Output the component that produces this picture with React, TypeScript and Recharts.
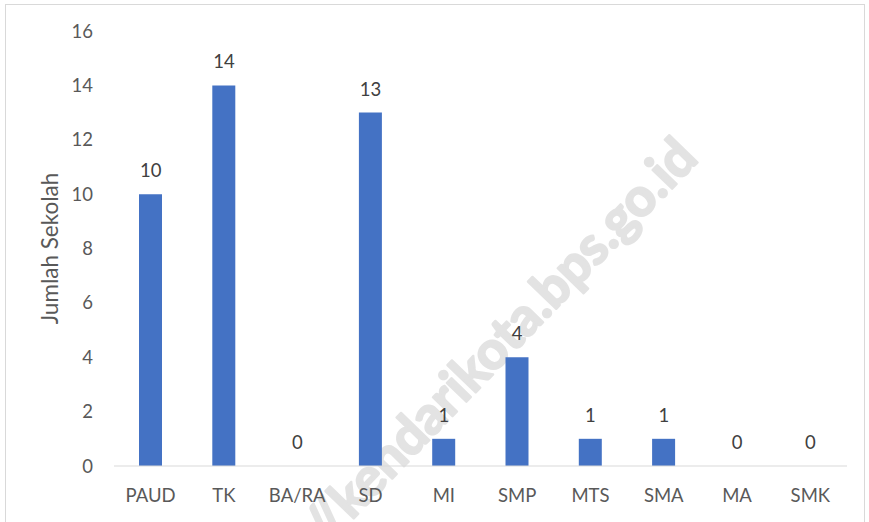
import React from "react";
import { ComposedChart, Bar, Line, XAxis, YAxis, LabelList } from "recharts";

const jenjang = ["PAUD", "TK", "BA/RA", "SD", "MI", "SMP", "MTS", "SMA", "MA", "SMK"];
const jumlahSekolah = [10, 14, 0, 13, 1, 4, 1, 1, 0, 0];
const yTicks = [0, 2, 4, 6, 8, 10, 12, 14, 16];

const data = jenjang.map((name, i) => ({ name, value: jumlahSekolah[i] }));

const font = "Lato, 'Open Sans', sans-serif";

const App: React.FC = () => {
  return (
    <div style={{ position: "absolute", left: 0, top: 0, width: 869, height: 522, background: "#fff", overflow: "hidden" }}>
      <div
        style={{
          position: "absolute",
          left: 5,
          top: 4,
          width: 860,
          height: 530,
          border: "1px solid #d9d9d9",
          boxSizing: "border-box",
        }}
      />
      {/* watermark */}
      <svg width={869} height={522} style={{ position: "absolute", left: 0, top: 0 }}>
        <text
          x={700}
          y={160}
          textAnchor="end"
          transform="rotate(-46 700 160)"
          fontFamily="Lato, sans-serif"
          fontWeight="bold"
          fontSize={53}
          fill="#e3e3e3"
          stroke="#e3e3e3"
          strokeWidth={2.2}
          strokeLinejoin="round"
        >
          https://kendarikota.bps.go.id
        </text>
      </svg>
      <ComposedChart
        width={869}
        height={522}
        data={data}
        margin={{ top: 31, right: 22, bottom: 0, left: 0 }}
        style={{ position: "absolute", left: 0, top: 0, fontFamily: font }}
      >
        <XAxis
          dataKey="name"
          height={56}
          tickLine={false}
          axisLine={{ stroke: "#d9d9d9", strokeWidth: 1 }}
          tickMargin={17}
          tick={{ fill: "#595959", fontSize: 18.5, fontFamily: font }}
        />
        <YAxis
          width={114}
          domain={[0, 16]}
          ticks={yTicks}
          axisLine={false}
          tickLine={false}
          tickMargin={15}
          tick={{ fill: "#595959", fontSize: 18.5, fontFamily: font }}
          label={{
            value: "Jumlah Sekolah",
            angle: -90,
            position: "insideLeft",
            offset: 50,
            style: { textAnchor: "middle", fill: "#595959", fontSize: 22.5, fontFamily: font },
          }}
        />
        <Bar dataKey="value" fill="#4472c4" barSize={23} isAnimationActive={false} />
        <Line
          dataKey="value"
          stroke="none"
          dot={false}
          activeDot={false}
          legendType="none"
          isAnimationActive={false}
        >
          <LabelList dataKey="value" position="top" offset={17} fill="#404040" fontSize={18.5} fontFamily={font} />
        </Line>
      </ComposedChart>
    </div>
  );
};

export default App;
